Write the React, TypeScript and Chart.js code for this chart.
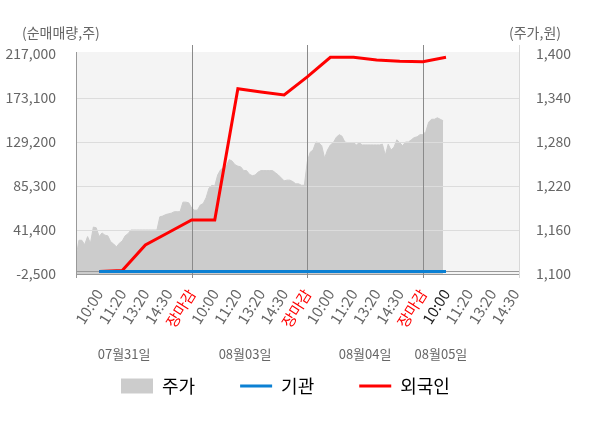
import { useEffect, useRef } from "react";
import { Chart, registerables } from "chart.js";

Chart.register(...registerables);

const FONT = "'Noto Sans CJK KR', 'Noto Sans', sans-serif";
Chart.defaults.font.family = FONT;

// x axis: evenly spaced time slots, four trading days
const slotLabels = [
  "10:00", "11:20", "13:20", "14:30", "장마감",
  "10:00", "11:20", "13:20", "14:30", "장마감",
  "10:00", "11:20", "13:20", "14:30", "장마감",
  "10:00", "11:20", "13:20", "14:30",
];
const slotTicks = slotLabels.map((_, i) => i + 1);
const closeLabel = "장마감";
const xMax = 19.2;

const dateLabels = ["07월31일", "08월03일", "08월04일", "08월05일"];
const dateTickAt = [2.08, 7.31, 12.5, 15.78];

const leftTicks = [-2500, 41400, 85300, 129200, 173100, 217000];
const rightTicks = [1100, 1160, 1220, 1280, 1340, 1400];

// 주가: 8 samples per slot, starting at the open of 07/31
const samplesPerSlot = 8;
const price = [
  1122, 1146, 1146, 1140, 1151, 1142, 1164, 1163,
  1151, 1156, 1153, 1152, 1144, 1141, 1137, 1142,
  1145, 1152, 1155, 1160, 1160, 1160, 1160, 1160,
  1160, 1160, 1160, 1160, 1160, 1178, 1179, 1181,
  1182, 1183, 1185, 1185, 1185, 1198, 1198, 1197,
  1190, 1187, 1187, 1194, 1196, 1204, 1217, 1221,
  1220, 1235, 1242, 1245, 1247, 1256, 1254, 1249,
  1247, 1246, 1241, 1241, 1236, 1234, 1235, 1239,
  1241, 1241, 1241, 1241, 1241, 1238, 1235, 1231,
  1227, 1228, 1228, 1226, 1223, 1223, 1221, 1221,
  1253, 1266, 1269, 1280, 1279, 1275, 1258, 1269,
  1276, 1279, 1286, 1290, 1288, 1280, 1279, 1279,
  1279, 1276, 1279, 1276, 1276, 1276, 1276, 1276,
  1276, 1276, 1277, 1262, 1277, 1269, 1273, 1283,
  1279, 1275, 1280, 1280, 1283, 1286, 1287, 1290,
  1290, 1294, 1307, 1311, 1311, 1313, 1311, 1309,
];

// 순매매량 누적, one value per slot from 07/31 10:00 to 08/05 10:00
const institution = [0, 0, 0, 0, 0, 0, 0, 0, 0, 0, 0, 0, 0, 0, 0, 0];
const foreign = [
  0, 1000, 26400, 38900, 51400,
  51400, 182400, 179100, 176100, 194100,
  213700, 213700, 211000, 209700, 209300,
  213700,
];
const currentIndex = foreign.length - 1;

const fmt = (v: number | string) => Number(v).toLocaleString("en-US");

const framePlugin = {
  id: "frame",
  beforeDraw(chart: Chart) {
    const { ctx, chartArea: a } = chart;
    ctx.save();
    ctx.fillStyle = "#f4f4f4";
    ctx.fillRect(a.left, a.top - 2, a.right - a.left, a.bottom - a.top + 2);
    ctx.restore();
  },
  afterDatasetDraw(chart: Chart, args: { index: number }) {
    if (args.index !== 0) return;
    const { ctx, chartArea: a } = chart;
    const x = chart.scales.x;
    const y = chart.scales.y;
    const seg = (x0: number, y0: number, x1: number, y1: number, color: string) => {
      ctx.strokeStyle = color;
      ctx.beginPath();
      ctx.moveTo(x0, y0);
      ctx.lineTo(x1, y1);
      ctx.stroke();
    };
    ctx.save();
    ctx.lineWidth = 1;
    y.ticks.slice(1, -1).forEach((t) => {
      const py = Math.round(y.getPixelForValue(t.value)) + 0.5;
      seg(a.left, py, a.right, py, "#dcdcdc");
    });
    const zero = Math.round(y.getPixelForValue(0)) + 0.5;
    seg(a.left, zero, a.right, zero, "#999999");
    const bottom = Math.round(a.bottom) + 0.5;
    seg(a.left, bottom, a.right, bottom, "#999999");
    x.ticks.forEach((t, i) => {
      if (slotLabels[i] !== closeLabel) return;
      const px = Math.round(x.getPixelForValue(t.value)) + 0.5;
      seg(px, a.top - 9, px, a.bottom + 4, "#8a8a8a");
    });
    const left = Math.round(a.left) + 0.5;
    seg(left, a.top - 2, left, a.bottom + 4, "#999999");
    const right = Math.round(a.right) - 0.5;
    seg(right, a.top - 9, right, a.bottom + 4, "#d8d8d8");
    ctx.restore();
  },
  afterDraw(chart: Chart) {
    const { ctx, chartArea: a } = chart;
    const x = chart.scales.x;
    ctx.save();
    ctx.fillStyle = "#666666";
    ctx.textBaseline = "middle";
    ctx.font = `14px ${FONT}`;
    ctx.textAlign = "left";
    ctx.fillText("(순매매량,주)", chart.scales.y.left + 22, a.top - 21);
    ctx.fillText("(주가,원)", chart.scales.y1.left - 11, a.top - 21);
    // day labels under the time ticks
    ctx.font = `13px ${FONT}`;
    ctx.textAlign = "center";
    dateLabels.forEach((d, i) => {
      ctx.fillText(d, x.getPixelForValue(dateTickAt[i]), a.bottom + 80);
    });
    ctx.restore();
  },
};

export default function App() {
  const canvasRef = useRef<HTMLCanvasElement>(null);

  useEffect(() => {
    document.body.style.margin = "0";

    const chart = new Chart(canvasRef.current!, {
      type: "line",
      data: {
        datasets: [
          {
            label: "주가",
            data: price.map((v, i) => ({ x: i / samplesPerSlot, y: v })),
            xAxisID: "x",
            yAxisID: "y1",
            borderColor: "#cccccc",
            backgroundColor: "#cccccc",
            borderWidth: 1,
            fill: "start",
            pointRadius: 0,
            tension: 0,
            order: 3,
          },
          {
            label: "기관",
            data: institution.map((v, i) => ({ x: slotTicks[i], y: v })),
            xAxisID: "x",
            yAxisID: "y",
            borderColor: "#0b80d3",
            backgroundColor: "#0b80d3",
            borderWidth: 3,
            fill: false,
            pointRadius: 0,
            tension: 0,
            order: 1,
          },
          {
            label: "외국인",
            data: foreign.map((v, i) => ({ x: slotTicks[i], y: v })),
            xAxisID: "x",
            yAxisID: "y",
            borderColor: "#ff0000",
            backgroundColor: "#ff0000",
            borderWidth: 3,
            fill: false,
            pointRadius: 0,
            tension: 0,
            order: 2,
          },
        ],
      },
      options: {
        animation: false,
        responsive: true,
        maintainAspectRatio: false,
        events: [],
        layout: { padding: { top: 54, bottom: 23, left: 0, right: 0 } },
        scales: {
          x: {
            type: "linear",
            position: "bottom",
            min: 0,
            max: xMax,
            afterBuildTicks: (s) => {
              s.ticks = slotTicks.map((v) => ({ value: v }));
            },
            afterFit: (s) => {
              s.height = 58;
            },
            grid: { display: false },
            border: { display: false },
            ticks: {
              autoSkip: false,
              minRotation: 58,
              maxRotation: 58,
              padding: 4,
              font: { size: 15 },
              color: (c) =>
                slotLabels[c.index] === closeLabel
                  ? "#ff0000"
                  : c.index === currentIndex
                  ? "#222222"
                  : "#666666",
              callback: (_v, i) => slotLabels[i],
            },
          },
          y: {
            type: "linear",
            position: "left",
            min: leftTicks[0],
            max: leftTicks[leftTicks.length - 1],
            afterBuildTicks: (s) => {
              s.ticks = leftTicks.map((v) => ({ value: v }));
            },
            afterFit: (s) => {
              s.width = 76;
            },
            grid: { display: false },
            border: { display: false },
            ticks: { padding: 12, font: { size: 14 }, color: "#666666", callback: fmt },
          },
          y1: {
            type: "linear",
            position: "right",
            min: rightTicks[0],
            max: rightTicks[rightTicks.length - 1],
            afterBuildTicks: (s) => {
              s.ticks = rightTicks.map((v) => ({ value: v }));
            },
            afterFit: (s) => {
              s.width = 80;
            },
            grid: { display: false },
            border: { display: false },
            ticks: { padding: 8, font: { size: 14 }, color: "#666666", callback: fmt },
          },
        },
        plugins: {
          tooltip: { enabled: false },
          legend: {
            position: "bottom",
            fullSize: false,
            align: "start",
            labels: {
              usePointStyle: true,
              pointStyleWidth: 32,
              boxHeight: 15,
              padding: 45,
              color: "#333333",
              font: { size: 18 },
              generateLabels: (c) =>
                c.data.datasets.map((ds, i) => ({
                  text: ds.label as string,
                  datasetIndex: i,
                  fillStyle: ds.backgroundColor as string,
                  strokeStyle: ds.borderColor as string,
                  lineWidth: i === 0 ? 0 : 3,
                  pointStyle: i === 0 ? "rect" : "line",
                  hidden: false,
                })),
            },
          },
        },
      },
      plugins: [framePlugin],
    });

    return () => chart.destroy();
  }, []);

  return (
    <div style={{ position: "relative", width: 600, height: 428 }}>
      <canvas ref={canvasRef}></canvas>
    </div>
  );
}
